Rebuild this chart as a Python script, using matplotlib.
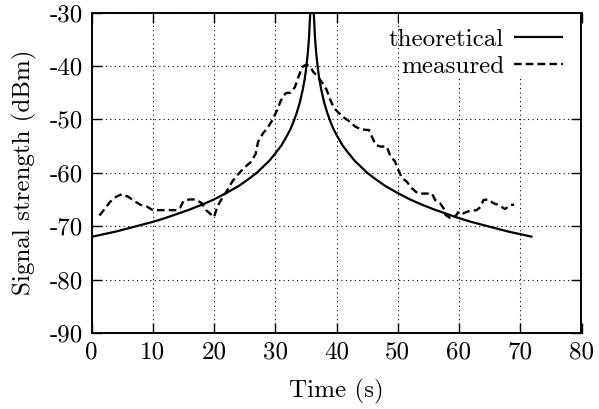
import matplotlib
matplotlib.use("Agg")
import matplotlib.pyplot as plt
from matplotlib.patches import Rectangle

plt.rcParams['font.family'] = 'serif'
plt.rcParams['font.serif'] = ['cmr10', 'DejaVu Serif']
plt.rcParams['mathtext.fontset'] = 'cm'
plt.rcParams['axes.formatter.use_mathtext'] = True

# theoretical curve
theo_t = [0, 2, 4, 6, 8, 10, 12, 14, 16, 18, 20, 22, 24, 25.5, 27, 29, 30, 31, 32, 32.5,
          33, 33.5, 34, 34.5, 34.8, 35, 35.3, 35.5, 35.7, 35.75,
          36.25, 36.3, 36.5, 36.7, 37, 37.2, 37.5, 38, 38.5, 39, 39.5, 40, 41, 42, 43, 45,
          46.5, 48, 50, 52, 54, 56, 58, 60, 62, 64, 66, 68, 70, 72]
theo_v = [-72.0, -71.5, -71.0, -70.4, -69.8, -69.2, -68.5, -67.7, -66.9, -66.0, -65.0, -63.8, -62.5,
          -61.3, -60.0, -57.8, -56.4, -54.9, -52.9, -51.8,
          -50.4, -48.8, -46.9, -44.4, -42.5, -40.9, -37.8, -34.9, -30.4, -28.8,
          -28.8, -30.4, -34.9, -37.8, -40.9, -42.5, -44.4, -46.9, -48.8, -50.4, -51.8, -52.9, -54.9,
          -56.4, -57.8, -60.0, -61.3, -62.5, -63.8, -65.0, -66.0, -66.9, -67.7, -68.5, -69.2, -69.8,
          -70.4, -71.0, -71.5, -72.0]

# measured curve
meas_t = [1.3, 2.0, 3.0, 4.0, 5.0, 6.0, 7.0, 8.0, 9.0, 10,
          11, 12, 13, 14, 14.5, 15, 16, 17, 18, 18.7,
          19.5, 20.0, 20.6, 21.3, 22, 23, 24, 25, 26, 26.8,
          27.2, 28, 28.7, 29.5, 30.3, 30.9, 31.7, 32.5, 33.2, 33.8,
          34.4, 35.0, 35.6, 36.2, 37.0, 37.7, 38.4, 39.0, 39.6, 40.2,
          41.0, 42.0, 43.0, 44.0, 45.3, 45.8, 46.4, 47.2, 48.2, 48.8,
          49.5, 50.1, 50.7, 51.5, 52.3, 53.3, 54.5, 55.6, 56.1, 56.9,
          57.5, 57.8, 58.6, 59.2, 60.0, 60.7, 61.8, 62.9, 63.5, 64.0,
          64.8, 65.6, 66.4, 67.5, 68.4, 69.0]
meas_v = [-68.0, -67.0, -65.5, -64.5, -64.0, -64.5, -65.3, -66.0, -66.3, -67.0,
          -67.0, -67.0, -67.0, -67.0, -66.5, -65.3, -65.0, -65.0, -65.7, -67.0,
          -67.8, -68.3, -66.2, -64.8, -63.6, -61.6, -60.2, -59.0, -58.0, -56.5,
          -54.2, -52.6, -51.7, -50.2, -48.3, -46.5, -45.1, -45.0, -44.0, -42.0,
          -40.2, -39.8, -40.0, -41.1, -42.1, -43.2, -44.5, -46.4, -47.9, -48.6,
          -49.5, -50.3, -51.3, -51.9, -52.0, -53.3, -54.8, -55.1, -55.1, -56.9,
          -57.8, -59.5, -61.0, -61.7, -62.9, -63.9, -63.9, -63.9, -65.1, -65.7,
          -66.7, -67.9, -68.5, -68.5, -67.2, -67.6, -67.1, -67.0, -66.4, -65.1,
          -65.0, -65.7, -66.0, -66.8, -66.0, -66.0]

xticks = [0, 10, 20, 30, 40, 50, 60, 70, 80]
yticks = [-90, -80, -70, -60, -50, -40, -30]
xlabels = ['0', '10', '20', '30', '40', '50', '60', '70', '80']
ylabels = ['-90', '-80', '-70', '-60', '-50', '-40', '-30']

FS = 18

fig = plt.figure(figsize=(5.99, 4.09), dpi=100)
ax = fig.add_axes([91.5 / 599, 1 - 333 / 409, 490 / 599, 320.5 / 409])

ax.plot(theo_t, theo_v, color='black', lw=1.6, label='theoretical', solid_capstyle='butt')
l2, = ax.plot(meas_t, meas_v, color='black', lw=1.7, label='measured')
l2.set_dashes([3.2, 1.8])

ax.set_xlim(0, 80)
ax.set_ylim(-90, -30)
ax.set_xticks(xticks)
ax.set_xticklabels(xlabels)
ax.set_yticks(yticks)
ax.set_yticklabels(ylabels)
ax.tick_params(direction='in', top=True, right=True, length=7, width=1.0,
               labelsize=FS, pad=6)
ax.grid(True, linestyle=(0, (1, 3)), color='black', linewidth=0.8)
for s in ax.spines.values():
    s.set_linewidth(1.4)

# opaque key background (covers grid only)
ax.add_patch(Rectangle((0.628, 0.798), 0.372, 0.202, transform=ax.transAxes,
                       facecolor='white', edgecolor='none', zorder=1.8))

ax.set_xlabel('Time (s)', fontsize=FS, labelpad=11)
ax.set_ylabel('Signal strength (dBm)', fontsize=FS, labelpad=9)

leg = ax.legend(loc='upper right', bbox_to_anchor=(0.962, 0.951), markerfirst=False,
                frameon=False, fontsize=FS,
                handlelength=1.95, handletextpad=0.4, borderaxespad=0.0,
                borderpad=0.0, labelspacing=0.18)
for t in leg.get_texts():
    t.set_ha('right')

fig.savefig('out.png', dpi=100)
